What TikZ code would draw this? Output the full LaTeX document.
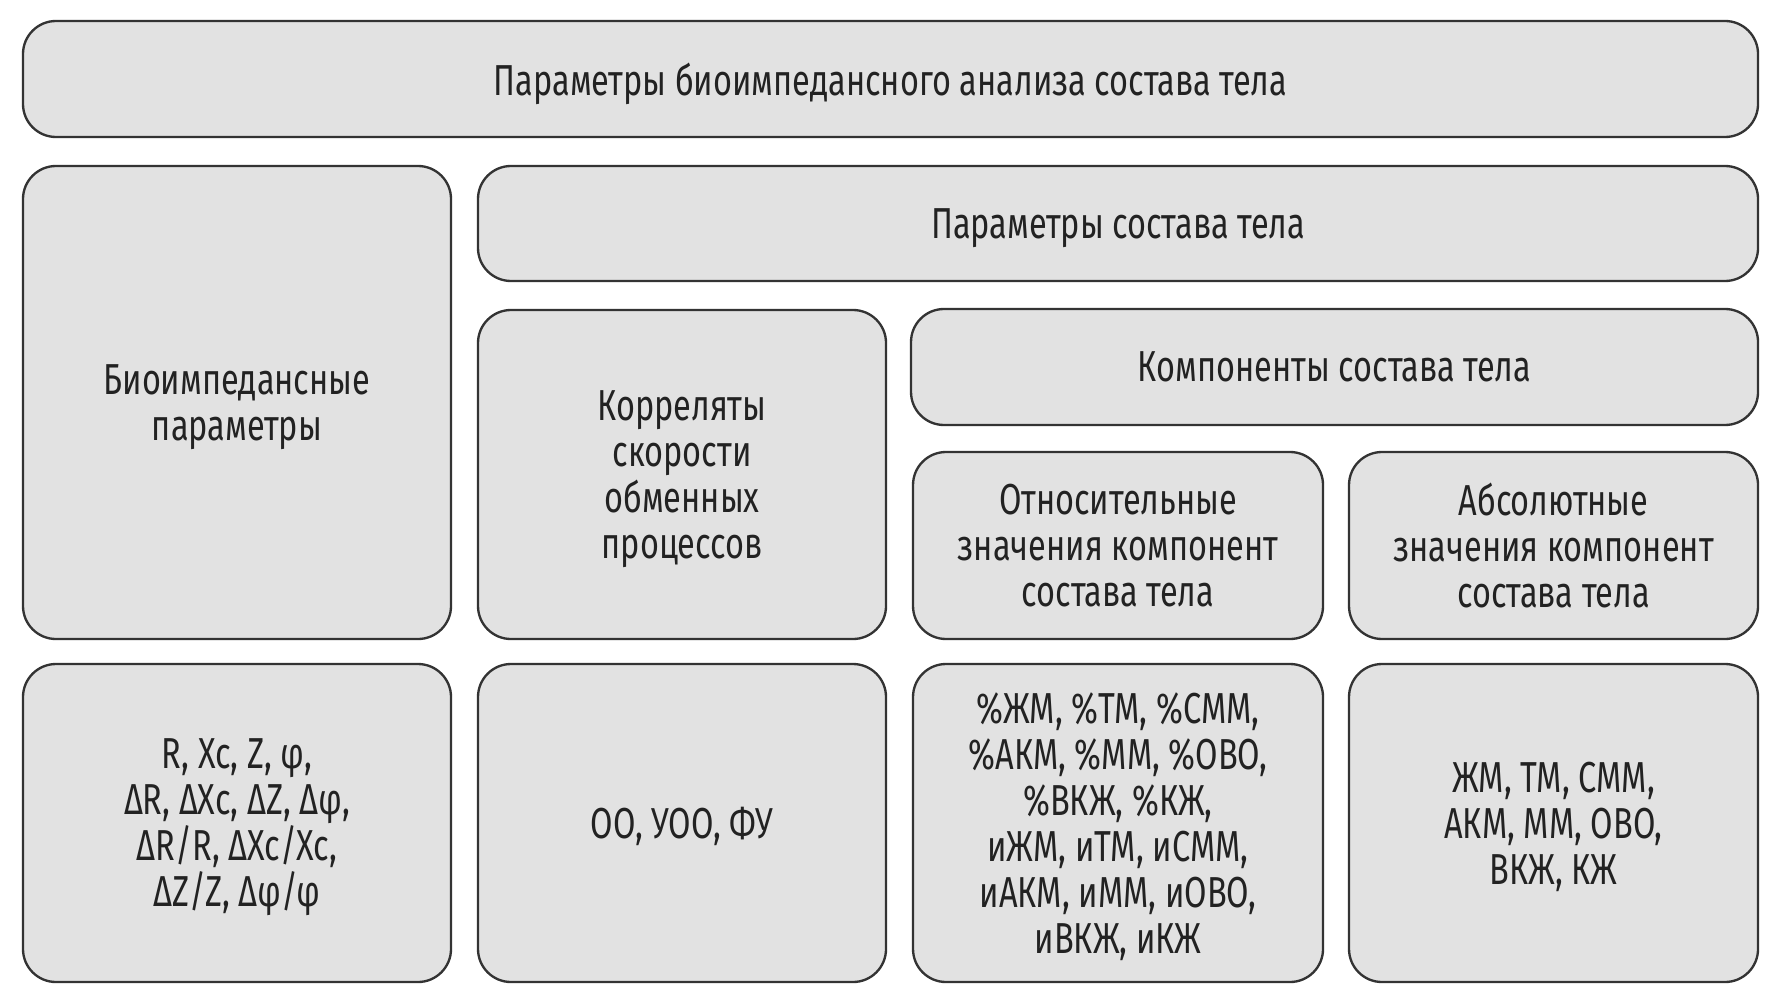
\documentclass[tikz,border=0pt]{standalone}
\usepackage{fontspec}
\setmainfont[FakeStretch=0.75]{Fira Sans}
\definecolor{boxfill}{HTML}{E2E2E2}
\definecolor{boxline}{HTML}{333333}
\definecolor{boxtext}{HTML}{222222}
\tikzset{
  box/.style 2 args={draw=boxline, fill=boxfill, line width=0.7pt,
    rounded corners=9.9pt, align=center, inner sep=0pt, text=boxtext,
    text depth=-0.6pt, minimum width=#1*0.3pt, minimum height=#2*0.3pt},
}
\begin{document}
\begin{tikzpicture}[x=0.3pt, y=-0.3pt, font=\fontsize{13}{13.8}\selectfont, line join=round]
  \useasboundingbox (0,0) rectangle (1776,1000);
  % upper blocks
  \node[box={1735}{116}] (bia) at (890.5,79) {Параметры биоимпедансного анализа состава тела};
  \node[box={428}{473}] (bio) at (237,402.5) {Биоимпедансные\\параметры};
  \node[box={1280}{115}] (sost) at (1118,223.5) {Параметры состава тела};
  \node[box={408}{329}] (korr) at (682,474.5) {Корреляты\\скорости\\обменных\\процессов};
  \node[box={847}{116}] (komp) at (1334.5,367) {Компоненты состава тела};
  \node[box={410}{187}] (otn) at (1118,545.5) {Относительные\\значения компонент\\состава тела};
  \node[box={409}{187}] (abs) at (1553.5,545.5) {Абсолютные\\значения компонент\\состава тела};
  % lower blocks
  \node[box={428}{318}] (bioval) at (237,823) {R, Xc, Z, φ,\\ΔR, ΔXc, ΔZ, Δφ,\\ΔR/R, ΔXc/Xc,\\ΔZ/Z, Δφ/φ};
  \node[box={408}{318}] (korrval) at (682,823) {ОО, УОО, ФУ};
  \node[box={410}{318}] (otnval) at (1118,823) {\%ЖМ, \%ТМ, \%СММ,\\\%АКМ, \%ММ, \%ОВО,\\\%ВКЖ, \%КЖ,\\иЖМ, иТМ, иСММ,\\иАКМ, иММ, иОВО,\\иВКЖ, иКЖ};
  \node[box={409}{318}] (absval) at (1553.5,823) {ЖМ, ТМ, СММ,\\АКМ, ММ, ОВО,\\ВКЖ, КЖ};
\end{tikzpicture}
\end{document}
